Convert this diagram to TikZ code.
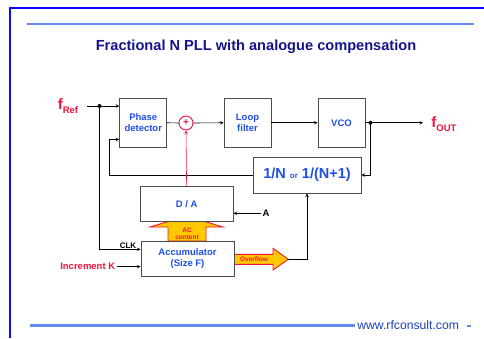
\documentclass[tikz,border=0pt]{standalone}
\usepackage{fontspec}
\setmainfont{Liberation Sans}
\definecolor{boxblue}{RGB}{30,80,230}
\definecolor{navy}{RGB}{20,20,140}
\definecolor{pllred}{RGB}{240,20,60}
\definecolor{frameblue}{RGB}{10,10,250}
\definecolor{ruleblue}{RGB}{100,140,240}
\definecolor{ovyellow}{RGB}{255,200,0}

\begin{document}
\begin{tikzpicture}[x=1pt,y=-1pt,>=stealth,line width=0.6pt]
  \tikzstyle{block}=[draw=black!70, line width=0.9pt, fill=white, minimum width=47pt, minimum height=48.5pt,
    align=center, text=boxblue, font=\fontsize{9.5}{11}\selectfont\bfseries]
  \tikzstyle{lbl}=[font=\fontsize{9.5}{11}\selectfont\bfseries, inner sep=1pt]
  \tikzstyle{flbl}=[font=\fontsize{15}{15}\selectfont\bfseries, text=pllred, inner sep=0pt]
  \tikzstyle{fat}=[draw=pllred, line width=0.9pt, fill=ovyellow]
  \tikzstyle{small}=[font=\fontsize{6.5}{7}\selectfont\bfseries, text=pllred, align=center, inner sep=0pt]

  \useasboundingbox (0,0) rectangle (484,338);

  % frame and rules
  \draw[frameblue, line width=2pt] (9.5,338) -- (9.5,8) -- (484,8);
  \draw[ruleblue, line width=2.5pt] (27,24) -- (474,24);
  \draw[ruleblue, line width=2.5pt] (30,325.5) -- (355,325.5);
  \node[anchor=west, inner sep=0pt, text=boxblue!80!black, font=\fontsize{12.2}{12}\selectfont] (url) at (357,325) {www.rfconsult.com};
  \fill[ruleblue] (467,324.5) rectangle (470.5,327);

  \node[text=navy, font=\fontsize{14.6}{16}\selectfont\bfseries] (title) at (256,46.5) {Fractional N PLL with analogue compensation};

  % fat arrows (behind the boxes)
  \draw[fat] (168,241) -- (168,227) -- (150,227) -- (186.5,216) -- (223,227) -- (206,227) -- (206,241) -- cycle;
  \node[small] (ac) at (187,234) {AC\\content};
  \draw[fat] (234,254.3) -- (273,254.3) -- (273,248.3) -- (288.3,259.3) -- (273,270) -- (273,264.3) -- (234,264.3) -- cycle;
  \node[small] (ovf) at (254,259.3) {Overflow};

  % blocks
  \node[block] (pd) at (143.25,122.75) {Phase\\detector};
  \node[block] (lf) at (247.5,122.75) {Loop\\filter};
  \node[block] (vco) at (341.5,122.75) {VCO};
  \node[block, minimum width=108pt, minimum height=36pt] (div) at (307,175)
    {\fontsize{14.5}{15}\selectfont 1/N {\fontsize{8}{8}\selectfont or} 1/(N+1)};
  \node[block, minimum width=93pt, minimum height=35.5pt] (da) at (186.6,204) {D / A};
  \node[block, minimum width=93pt, minimum height=35.5pt] (acc) at (187.5,259) {Accumulator\\(Size F)};
  \node[circle, draw=pllred, line width=0.9pt, fill=white, minimum size=14pt, inner sep=0pt, text=pllred,
    font=\fontsize{10}{10}\selectfont\bfseries] (sum) at (186,123) {+};

  % labels
  \node[flbl] (fref) at (68,106) {f\raisebox{-4pt}{\fontsize{9.5}{9.5}\selectfont Ref}};
  \node[flbl] (foutlbl) at (444,124) {f\raisebox{-4pt}{\fontsize{9.5}{9.5}\selectfont OUT}};
  \node[lbl] (alab) at (266,213.3) {A};
  \node[lbl, font=\fontsize{8}{9}\selectfont\bfseries] (clk) at (128,245.5) {CLK};
  \node[lbl, text=pllred, anchor=east] (inc) at (116.5,266.7) {Increment K};

  \coordinate (fin) at (87,106);
  \coordinate (ref) at (99.5,106);
  \coordinate (outdot) at (370.5,122.75);
  \coordinate (fout) at (423,122.75);
  \coordinate (fb) at (109,139.5);
  \coordinate (ovtip) at (288.3,259.3);

  % connections
  \draw[->] (fin) -- (fin -| pd.west);
  \fill (ref) circle (2pt);
  \draw (pd.east) -- (sum.west);
  \draw[->] (sum.east) -- (lf.west);
  \draw[->] (lf) -- (vco);
  \draw[->] (vco.east) -- (fout);
  \fill (outdot) circle (2pt);
  \draw[->] (outdot) |- (div.east);
  \draw[->] (div.west) -| (fb) -- (fb -| pd.west);
  \draw[->, pllred] (da.north) -- (sum.south);
  \draw[->] (alab) -- (da.east |- alab);
  \draw[->] (ref) |- (acc.west |- 0,249.3);
  \draw[->] (inc) -- (acc.west |- inc);
  \draw[->] (ovtip) -| (div.south);
\end{tikzpicture}
\end{document}
